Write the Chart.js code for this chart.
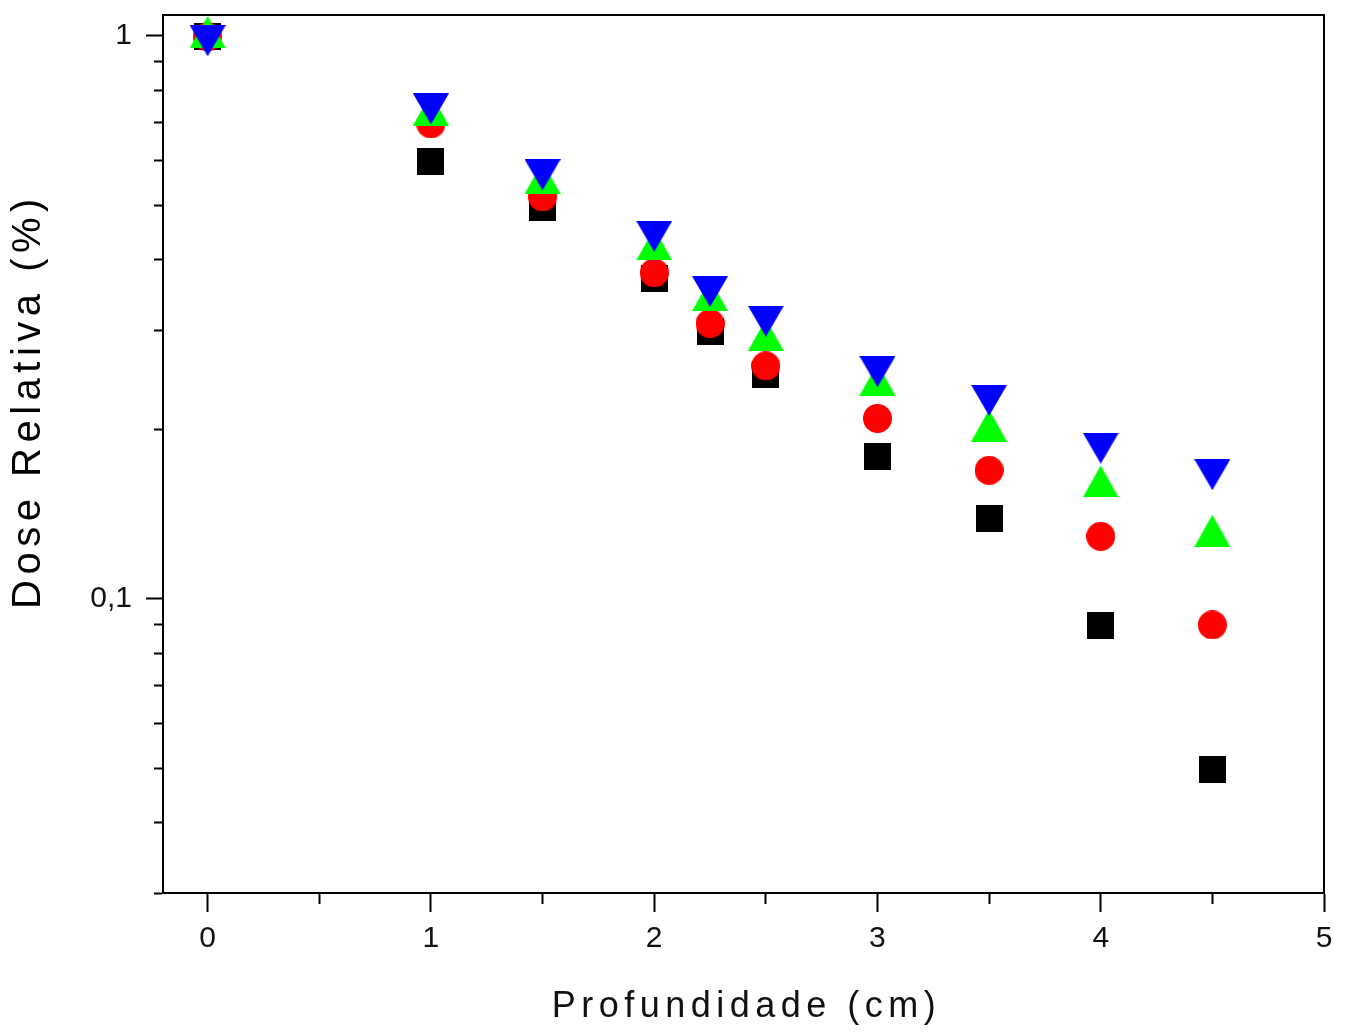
<!DOCTYPE html>
<html>
<head>
<meta charset="utf-8">
<title>Dose Relativa</title>
<script src="https://cdn.jsdelivr.net/npm/chart.js@4/dist/chart.umd.min.js"></script>
<style>
  html, body { margin: 0; padding: 0; background: #ffffff; }
  #wrap { width: 1349px; height: 1034px; }
</style>
</head>
<body>
<div id="wrap"><canvas id="c" width="1349" height="1034"></canvas></div>
<script>
// ---------- data ----------
const depth = [0, 1, 1.5, 2, 2.25, 2.5, 3, 3.5, 4, 4.5];
const serieQuadrado = [0.995, 0.597, 0.496, 0.370, 0.298, 0.250, 0.179, 0.139, 0.0897, 0.0497];
const serieCirculo  = [0.995, 0.697, 0.517, 0.379, 0.308, 0.259, 0.209, 0.169, 0.129, 0.0898];
const serieTriCima  = [1.015, 0.739, 0.559, 0.426, 0.346, 0.294, 0.245, 0.203, 0.1615, 0.132];
const serieTriBaixo = [0.979, 0.741, 0.566, 0.440, 0.351, 0.311, 0.253, 0.225, 0.185, 0.166];

const xMajorTicks = [0, 1, 2, 3, 4, 5];
const xTickLabels = ['0', '1', '2', '3', '4', '5'];
const xMinorTicks = [0.5, 1.5, 2.5, 3.5, 4.5];
const yMajorTicks = [0.1, 1];
const yTickLabels = ['0,1', '1'];
const yMinorTicks = [0.03, 0.04, 0.05, 0.06, 0.07, 0.08, 0.09, 0.2, 0.3, 0.4, 0.5, 0.6, 0.7, 0.8, 0.9];

const xTitle = 'Profundidade (cm)';
const yTitle = 'Dose Relativa (%)';

// ---------- styles ----------
const FONT = "'Liberation Sans', Arial, sans-serif";
const titleStyle = {
  x: { spacing: '5.5px', dx: 3, dy: 0 },
  y: { spacing: '5.5px', dx: 0, dy: -53 }
};

function makeMarker(kind, color, w, h) {
  const c = document.createElement('canvas');
  c.width = w; c.height = h;
  const g = c.getContext('2d');
  g.fillStyle = color;
  g.beginPath();
  if (kind === 'square') g.rect(0, 0, w, h);
  else if (kind === 'circle') g.arc(w / 2, h / 2, w / 2, 0, Math.PI * 2);
  else if (kind === 'up') { g.moveTo(w / 2, 0); g.lineTo(w, h); g.lineTo(0, h); }
  else if (kind === 'down') { g.moveTo(0, 0); g.lineTo(w, 0); g.lineTo(w / 2, h); }
  g.closePath();
  g.fill();
  return c;
}
const mkSquare = makeMarker('square', '#000000', 27, 27);
const mkCircle = makeMarker('circle', '#ff0000', 29, 29);
const mkUp = makeMarker('up', '#00ff00', 36, 32);
const mkDown = makeMarker('down', '#0000ff', 36, 31);

// letter spacing / offset for axis titles
const origDrawTitle = Chart.Scale.prototype.drawTitle;
Chart.Scale.prototype.drawTitle = function () {
  const ctx = this.ctx;
  const ts = titleStyle[this.id];
  ctx.save();
  if (ts) {
    ctx.letterSpacing = ts.spacing;
    ctx.translate(ts.dx, ts.dy);
  }
  origDrawTitle.call(this);
  ctx.restore();
};

function pts(ys) { return depth.map((x, i) => ({ x: x, y: ys[i] })); }
function ds(label, ys, img, order) {
  return {
    label: label, data: pts(ys), pointStyle: img, pointRadius: 14, pointHoverRadius: 14,
    showLine: false, order: order, clip: false
  };
}

const X_MAJOR_LEN = 19, X_MINOR_LEN = 10, Y_MAJOR_LEN = 17, Y_MINOR_LEN = 9;

new Chart(document.getElementById('c'), {
  type: 'scatter',
  data: {
    datasets: [
      ds('Série 1', serieQuadrado, mkSquare, 4),
      ds('Série 2', serieCirculo, mkCircle, 3),
      ds('Série 3', serieTriCima, mkUp, 2),
      ds('Série 4', serieTriBaixo, mkDown, 1)
    ]
  },
  options: {
    responsive: false,
    animation: false,
    events: [],
    layout: { padding: { top: 13, right: 25, left: 0, bottom: 0 } },
    plugins: { legend: { display: false }, tooltip: { enabled: false } },
    scales: {
      x: {
        type: 'linear', position: 'bottom', min: -0.2, max: 5, bounds: 'data',
        afterBuildTicks: s => {
          s.ticks = xMajorTicks.map(v => ({ value: v, major: true }))
            .concat(xMinorTicks.map(v => ({ value: v, major: false })));
        },
        afterFit: s => { s.height = 141; s.paddingLeft = 0; s.paddingRight = 0; },
        ticks: {
          autoSkip: false, maxRotation: 0, padding: 9, color: '#111111',
          font: { family: FONT, size: 30 },
          callback: (v) => { const i = xMajorTicks.indexOf(v); return i >= 0 ? xTickLabels[i] : ''; }
        },
        grid: {
          drawOnChartArea: false, drawTicks: true, tickLength: X_MAJOR_LEN,
          tickColor: '#000000', tickWidth: 2,
          tickBorderDash: c => (c.tick && !c.tick.major) ? [X_MINOR_LEN, 100] : []
        },
        border: { display: true, color: '#000000', width: 2 },
        title: {
          display: true, text: xTitle, color: '#111111',
          font: { family: FONT, size: 36 }, padding: { top: 0, bottom: 5 }
        }
      },
      y: {
        type: 'logarithmic', position: 'left', min: 0.03, max: 1.088, bounds: 'data',
        afterBuildTicks: s => {
          s.ticks = yMajorTicks.map(v => ({ value: v, major: true }))
            .concat(yMinorTicks.map(v => ({ value: v, major: false })));
        },
        afterFit: s => { s.width = 163; s.paddingTop = 0; s.paddingBottom = 0; },
        ticks: {
          autoSkip: false, padding: 14, color: '#111111',
          font: { family: FONT, size: 30 },
          callback: (v) => { const i = yMajorTicks.indexOf(v); return i >= 0 ? yTickLabels[i] : ''; }
        },
        grid: {
          drawOnChartArea: false, drawTicks: true, tickLength: Y_MAJOR_LEN,
          tickColor: '#000000', tickWidth: 2,
          tickBorderDash: c => (c.tick && !c.tick.major) ? [0, Y_MAJOR_LEN - Y_MINOR_LEN, Y_MINOR_LEN, 100] : []
        },
        border: { display: true, color: '#000000', width: 2 },
        title: {
          display: true, text: yTitle, color: '#000000',
          font: { family: FONT, size: 40 }, padding: { top: 5, bottom: 0 }
        }
      },
      xTop: {
        type: 'linear', position: 'top', min: -0.2, max: 5,
        afterFit: s => { s.height = 0; s.paddingLeft = 0; s.paddingRight = 0; },
        ticks: { display: false },
        grid: { drawOnChartArea: false, drawTicks: false },
        border: { display: true, color: '#000000', width: 2 }
      },
      yRight: {
        type: 'linear', position: 'right', min: 0, max: 1,
        afterFit: s => { s.width = 0; s.paddingTop = 0; s.paddingBottom = 0; },
        ticks: { display: false },
        grid: { drawOnChartArea: false, drawTicks: false },
        border: { display: true, color: '#000000', width: 2 }
      }
    }
  }
});
</script>
</body>
</html>
